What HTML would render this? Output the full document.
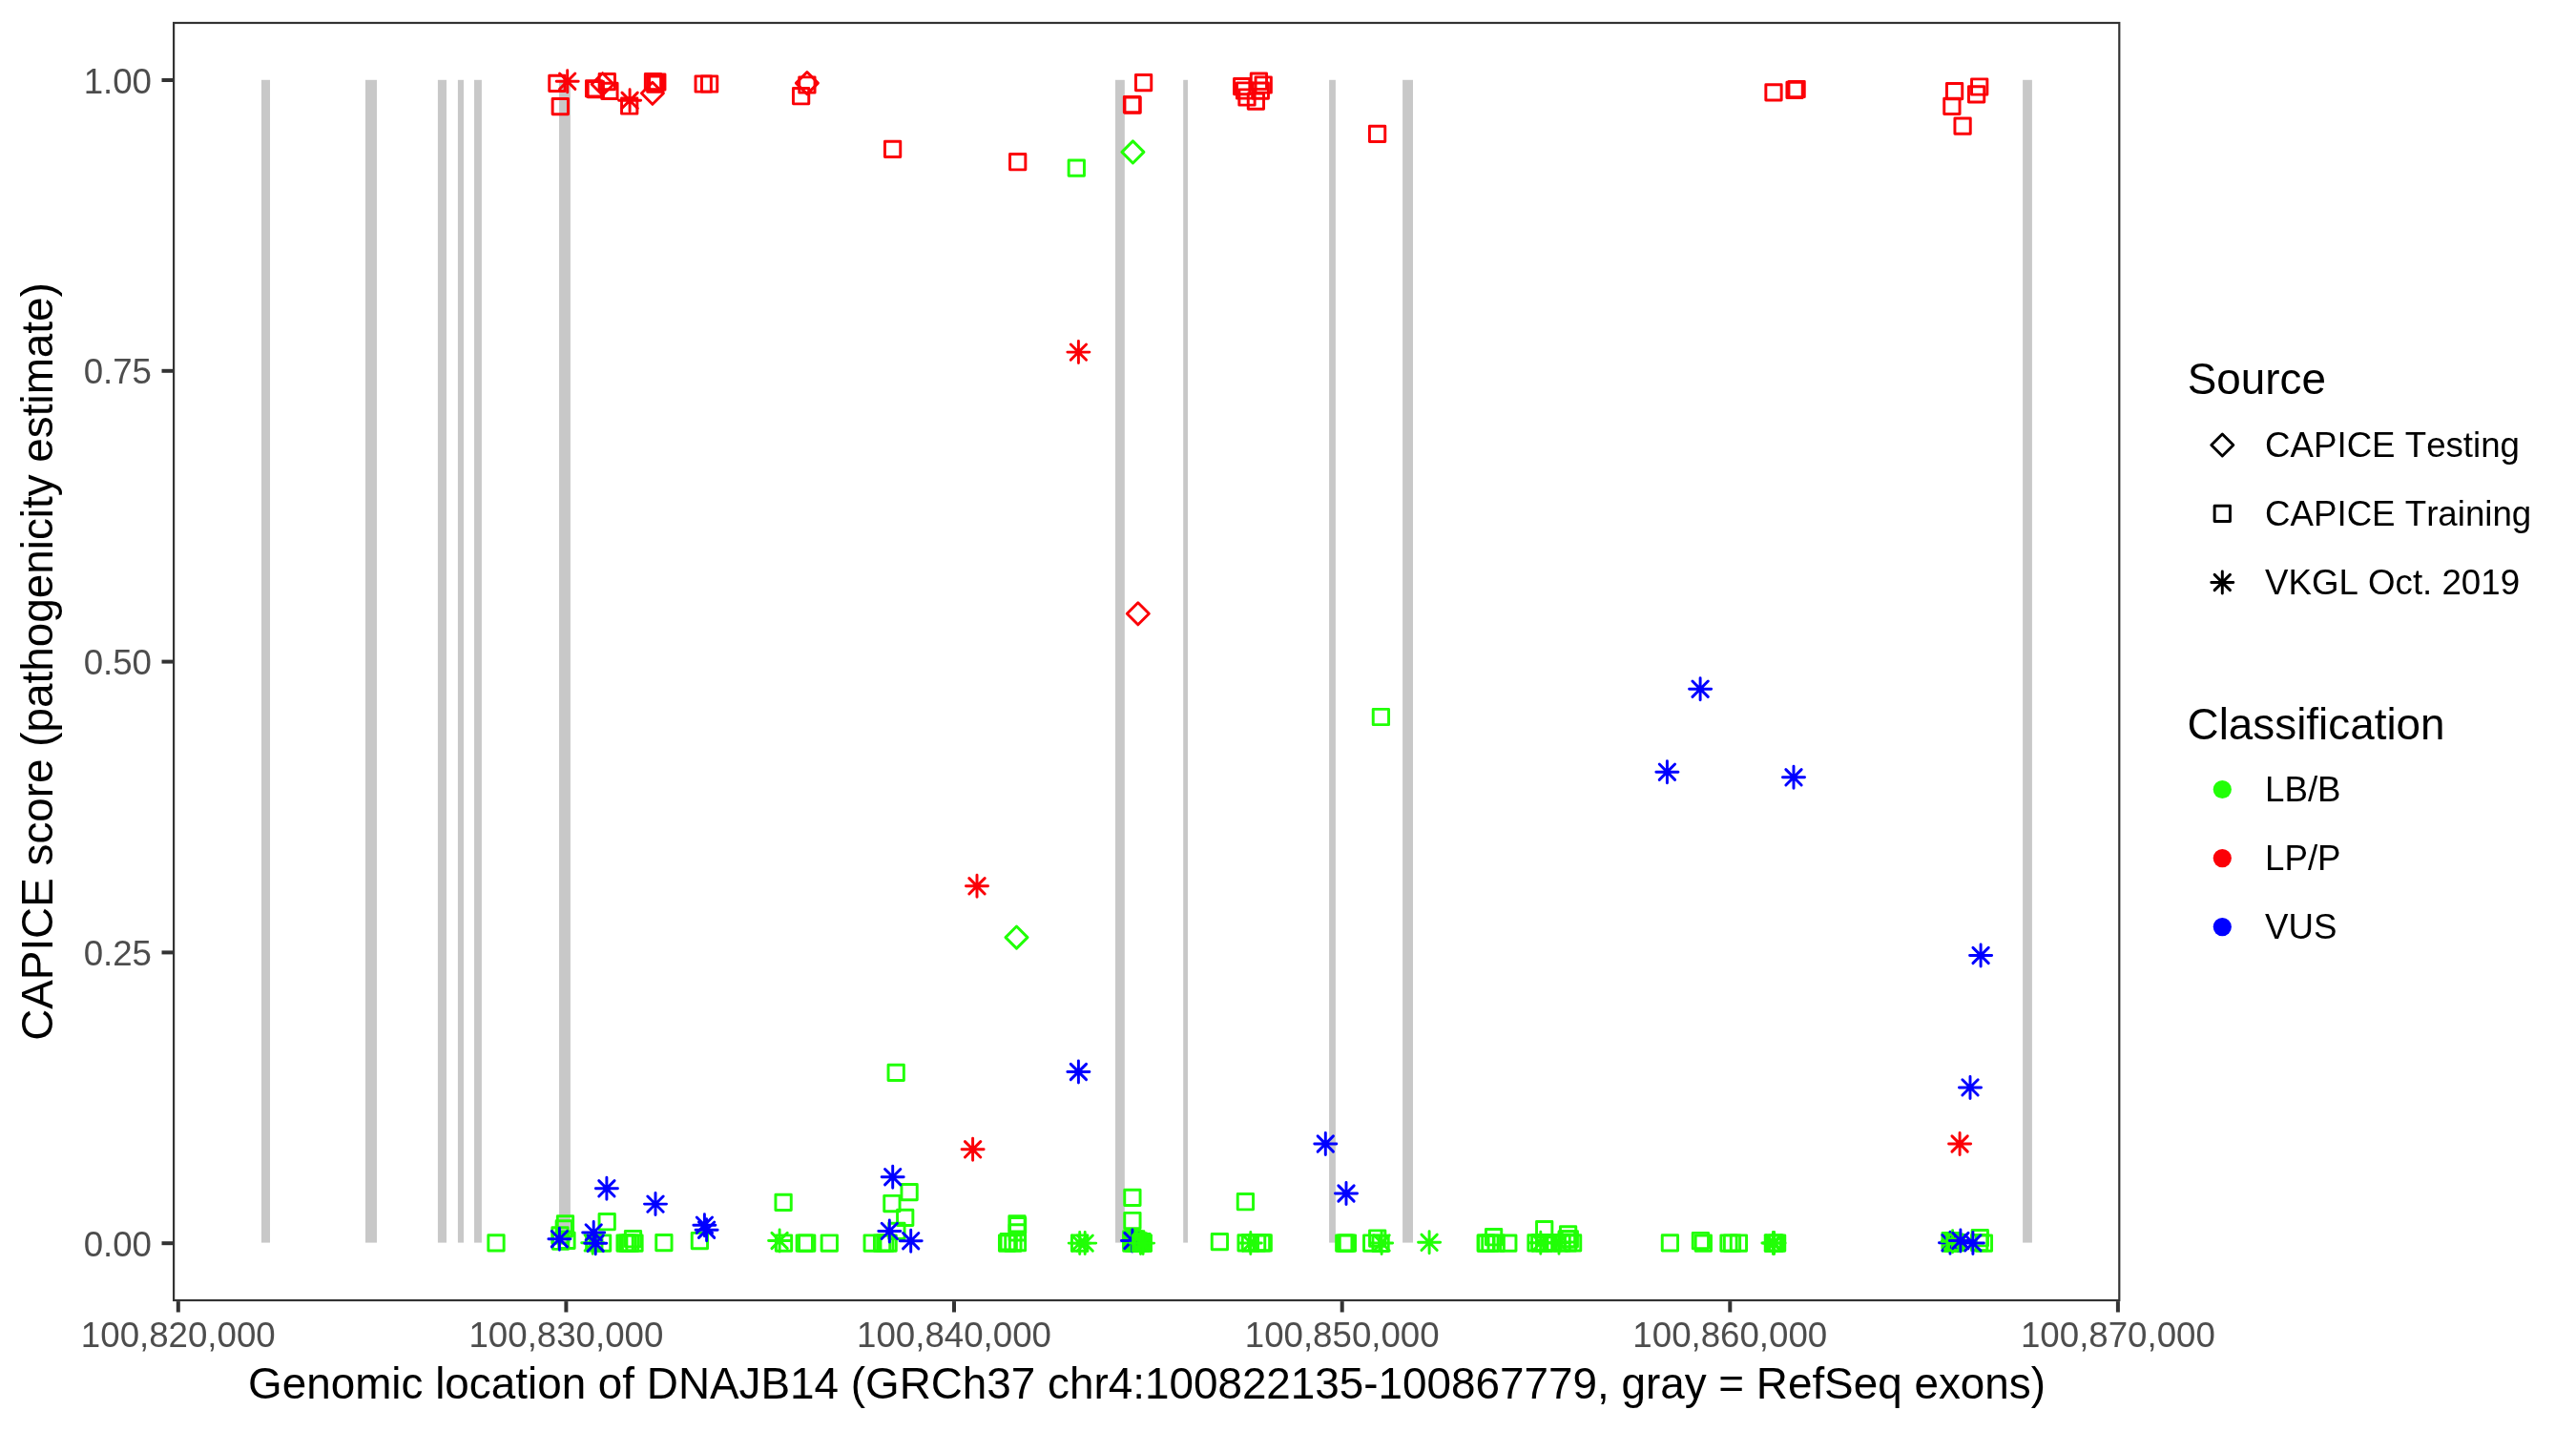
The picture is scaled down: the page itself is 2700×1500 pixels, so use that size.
<!DOCTYPE html>
<html><head><meta charset="utf-8"><title>CAPICE DNAJB14</title>
<style>html,body{margin:0;padding:0;background:#fff;}svg{display:block;will-change:transform;}text{font-family:"Liberation Sans",sans-serif;font-kerning:none;}</style></head><body>
<svg width="2700" height="1500" viewBox="0 0 2700 1500">
<rect x="0" y="0" width="2700" height="1500" fill="#FFFFFF"/>
<g fill="#C8C8C8">
<rect x="274.0" y="83.8" width="9.0" height="1218.8"/>
<rect x="383.0" y="83.8" width="12.0" height="1218.8"/>
<rect x="458.9" y="83.8" width="9.1" height="1218.8"/>
<rect x="479.9" y="83.8" width="6.1" height="1218.8"/>
<rect x="497.0" y="83.8" width="7.9" height="1218.8"/>
<rect x="586.0" y="83.8" width="11.9" height="1218.8"/>
<rect x="1169.0" y="83.8" width="9.8" height="1218.8"/>
<rect x="1240.2" y="83.8" width="4.8" height="1218.8"/>
<rect x="1393.1" y="83.8" width="6.8" height="1218.8"/>
<rect x="1470.1" y="83.8" width="10.9" height="1218.8"/>
<rect x="2120.1" y="83.8" width="9.8" height="1218.8"/>
</g>
<g fill="none" stroke-width="2.95" stroke-linejoin="round" stroke-linecap="round">
<rect x="511.85" y="1294.65" width="16.30" height="16.30" stroke="#21FF06"/>
<rect x="584.35" y="1274.65" width="16.30" height="16.30" stroke="#21FF06"/>
<rect x="583.15" y="1279.65" width="16.30" height="16.30" stroke="#21FF06"/>
<rect x="578.85" y="1286.65" width="16.30" height="16.30" stroke="#21FF06"/>
<rect x="579.45" y="1293.05" width="16.30" height="16.30" stroke="#21FF06"/>
<rect x="585.85" y="1292.15" width="16.30" height="16.30" stroke="#21FF06"/>
<path d="M578.25 1290.55L594.55 1306.85M578.25 1306.85L594.55 1290.55M574.88 1298.70L597.92 1298.70M586.40 1287.18L586.40 1310.22" stroke="#0000FF"/>
<path d="M627.75 1237.65L644.05 1253.95M627.75 1253.95L644.05 1237.65M624.38 1245.80L647.42 1245.80M635.90 1234.28L635.90 1257.32" stroke="#0000FF"/>
<rect x="628.05" y="1272.55" width="16.30" height="16.30" stroke="#21FF06"/>
<path d="M613.05 1294.65L629.35 1310.95M613.05 1310.95L629.35 1294.65M609.68 1302.80L632.72 1302.80M621.20 1291.28L621.20 1314.32" stroke="#21FF06"/>
<rect x="614.65" y="1294.65" width="16.30" height="16.30" stroke="#21FF06"/>
<rect x="623.45" y="1294.85" width="16.30" height="16.30" stroke="#21FF06"/>
<path d="M614.05 1283.75L630.35 1300.05M614.05 1300.05L630.35 1283.75M610.68 1291.90L633.72 1291.90M622.20 1280.38L622.20 1303.42" stroke="#0000FF"/>
<path d="M616.05 1295.05L632.35 1311.35M616.05 1311.35L632.35 1295.05M612.68 1303.20L635.72 1303.20M624.20 1291.68L624.20 1314.72" stroke="#0000FF"/>
<rect x="646.95" y="1294.85" width="16.30" height="16.30" stroke="#21FF06"/>
<rect x="649.55" y="1294.85" width="16.30" height="16.30" stroke="#21FF06"/>
<rect x="652.45" y="1294.85" width="16.30" height="16.30" stroke="#21FF06"/>
<rect x="656.85" y="1294.85" width="16.30" height="16.30" stroke="#21FF06"/>
<rect x="655.35" y="1290.55" width="16.30" height="16.30" stroke="#21FF06"/>
<rect x="687.75" y="1294.45" width="16.30" height="16.30" stroke="#21FF06"/>
<rect x="725.25" y="1292.35" width="16.30" height="16.30" stroke="#21FF06"/>
<path d="M678.85 1253.95L695.15 1270.25M678.85 1270.25L695.15 1253.95M675.48 1262.10L698.52 1262.10M687.00 1250.58L687.00 1273.62" stroke="#0000FF"/>
<path d="M730.25 1276.05L746.55 1292.35M730.25 1292.35L746.55 1276.05M726.88 1284.20L749.92 1284.20M738.40 1272.68L738.40 1295.72" stroke="#0000FF"/>
<path d="M732.45 1281.05L748.75 1297.35M732.45 1297.35L748.75 1281.05M729.08 1289.20L752.12 1289.20M740.60 1277.68L740.60 1300.72" stroke="#0000FF"/>
<rect x="931.05" y="1116.25" width="16.30" height="16.30" stroke="#21FF06"/>
<rect x="944.95" y="1241.45" width="16.30" height="16.30" stroke="#21FF06"/>
<rect x="812.95" y="1252.25" width="16.30" height="16.30" stroke="#21FF06"/>
<rect x="926.75" y="1253.35" width="16.30" height="16.30" stroke="#21FF06"/>
<rect x="940.55" y="1268.25" width="16.30" height="16.30" stroke="#21FF06"/>
<rect x="931.75" y="1282.25" width="16.30" height="16.30" stroke="#21FF06"/>
<path d="M808.95 1292.35L825.25 1308.65M808.95 1308.65L825.25 1292.35M805.58 1300.50L828.62 1300.50M817.10 1288.98L817.10 1312.02" stroke="#21FF06"/>
<rect x="813.35" y="1294.85" width="16.30" height="16.30" stroke="#21FF06"/>
<rect x="835.15" y="1294.85" width="16.30" height="16.30" stroke="#21FF06"/>
<rect x="837.55" y="1294.85" width="16.30" height="16.30" stroke="#21FF06"/>
<rect x="861.15" y="1294.85" width="16.30" height="16.30" stroke="#21FF06"/>
<rect x="906.05" y="1294.85" width="16.30" height="16.30" stroke="#21FF06"/>
<rect x="916.45" y="1294.85" width="16.30" height="16.30" stroke="#21FF06"/>
<rect x="919.65" y="1294.85" width="16.30" height="16.30" stroke="#21FF06"/>
<rect x="922.95" y="1294.85" width="16.30" height="16.30" stroke="#21FF06"/>
<path d="M927.55 1225.55L943.85 1241.85M927.55 1241.85L943.85 1225.55M924.18 1233.70L947.22 1233.70M935.70 1222.18L935.70 1245.22" stroke="#0000FF"/>
<path d="M924.15 1282.25L940.45 1298.55M924.15 1298.55L940.45 1282.25M920.78 1290.40L943.82 1290.40M932.30 1278.88L932.30 1301.92" stroke="#0000FF"/>
<path d="M946.55 1292.55L962.85 1308.85M946.55 1308.85L962.85 1292.55M943.18 1300.70L966.22 1300.70M954.70 1289.18L954.70 1312.22" stroke="#0000FF"/>
<rect x="1047.45" y="1294.85" width="16.30" height="16.30" stroke="#21FF06"/>
<rect x="1049.05" y="1293.55" width="16.30" height="16.30" stroke="#21FF06"/>
<rect x="1053.75" y="1294.85" width="16.30" height="16.30" stroke="#21FF06"/>
<rect x="1058.35" y="1294.35" width="16.30" height="16.30" stroke="#21FF06"/>
<rect x="1057.85" y="1274.65" width="16.30" height="16.30" stroke="#21FF06"/>
<rect x="1058.45" y="1276.45" width="16.30" height="16.30" stroke="#21FF06"/>
<rect x="1058.15" y="1283.65" width="16.30" height="16.30" stroke="#21FF06"/>
<path d="M1123.55 1294.95L1139.85 1311.25M1123.55 1311.25L1139.85 1294.95M1120.18 1303.10L1143.22 1303.10M1131.70 1291.58L1131.70 1314.62" stroke="#21FF06"/>
<path d="M1129.05 1294.95L1145.35 1311.25M1129.05 1311.25L1145.35 1294.95M1125.68 1303.10L1148.72 1303.10M1137.20 1291.58L1137.20 1314.62" stroke="#21FF06"/>
<rect x="1123.45" y="1294.85" width="16.30" height="16.30" stroke="#21FF06"/>
<rect x="1178.75" y="1247.25" width="16.30" height="16.30" stroke="#21FF06"/>
<rect x="1178.75" y="1271.35" width="16.30" height="16.30" stroke="#21FF06"/>
<rect x="1177.65" y="1290.65" width="16.30" height="16.30" stroke="#21FF06"/>
<rect x="1177.65" y="1295.05" width="16.30" height="16.30" stroke="#21FF06"/>
<rect x="1180.15" y="1292.85" width="16.30" height="16.30" stroke="#21FF06"/>
<rect x="1182.65" y="1290.65" width="16.30" height="16.30" stroke="#21FF06"/>
<rect x="1182.65" y="1295.05" width="16.30" height="16.30" stroke="#21FF06"/>
<rect x="1180.15" y="1295.05" width="16.30" height="16.30" stroke="#21FF06"/>
<rect x="1180.15" y="1290.65" width="16.30" height="16.30" stroke="#21FF06"/>
<rect x="1185.15" y="1294.95" width="16.30" height="16.30" stroke="#21FF06"/>
<rect x="1185.15" y="1292.65" width="16.30" height="16.30" stroke="#21FF06"/>
<path d="M1178.75 1292.35L1195.05 1308.65M1178.75 1308.65L1195.05 1292.35M1175.38 1300.50L1198.42 1300.50M1186.90 1288.98L1186.90 1312.02" stroke="#0000FF"/>
<rect x="1187.65" y="1294.95" width="16.30" height="16.30" stroke="#21FF06"/>
<rect x="1190.15" y="1294.95" width="16.30" height="16.30" stroke="#21FF06"/>
<rect x="1188.85" y="1293.35" width="16.30" height="16.30" stroke="#21FF06"/>
<path d="M1187.35 1294.95L1203.65 1311.25M1187.35 1311.25L1203.65 1294.95M1183.98 1303.10L1207.02 1303.10M1195.50 1291.58L1195.50 1314.62" stroke="#21FF06"/>
<path d="M1189.95 1294.95L1206.25 1311.25M1189.95 1311.25L1206.25 1294.95M1186.58 1303.10L1209.62 1303.10M1198.10 1291.58L1198.10 1314.62" stroke="#21FF06"/>
<rect x="1270.25" y="1293.45" width="16.30" height="16.30" stroke="#21FF06"/>
<rect x="1297.25" y="1251.55" width="16.30" height="16.30" stroke="#21FF06"/>
<path d="M1302.65 1294.75L1318.95 1311.05M1302.65 1311.05L1318.95 1294.75M1299.28 1302.90L1322.32 1302.90M1310.80 1291.38L1310.80 1314.42" stroke="#21FF06"/>
<rect x="1297.95" y="1294.75" width="16.30" height="16.30" stroke="#21FF06"/>
<rect x="1302.25" y="1294.75" width="16.30" height="16.30" stroke="#21FF06"/>
<rect x="1309.45" y="1294.75" width="16.30" height="16.30" stroke="#21FF06"/>
<rect x="1314.35" y="1294.75" width="16.30" height="16.30" stroke="#21FF06"/>
<rect x="1316.05" y="1294.75" width="16.30" height="16.30" stroke="#21FF06"/>
<path d="M1381.15 1190.85L1397.45 1207.15M1381.15 1207.15L1397.45 1190.85M1377.78 1199.00L1400.82 1199.00M1389.30 1187.48L1389.30 1210.52" stroke="#0000FF"/>
<path d="M1402.85 1242.85L1419.15 1259.15M1402.85 1259.15L1419.15 1242.85M1399.48 1251.00L1422.52 1251.00M1411.00 1239.48L1411.00 1262.52" stroke="#0000FF"/>
<rect x="1400.65" y="1294.85" width="16.30" height="16.30" stroke="#21FF06"/>
<rect x="1402.45" y="1294.85" width="16.30" height="16.30" stroke="#21FF06"/>
<rect x="1404.25" y="1294.85" width="16.30" height="16.30" stroke="#21FF06"/>
<rect x="1429.55" y="1294.85" width="16.30" height="16.30" stroke="#21FF06"/>
<rect x="1435.55" y="1289.85" width="16.30" height="16.30" stroke="#21FF06"/>
<rect x="1438.95" y="1295.15" width="16.30" height="16.30" stroke="#21FF06"/>
<path d="M1439.95 1294.75L1456.25 1311.05M1439.95 1311.05L1456.25 1294.75M1436.58 1302.90L1459.62 1302.90M1448.10 1291.38L1448.10 1314.42" stroke="#21FF06"/>
<path d="M1489.95 1294.15L1506.25 1310.45M1489.95 1310.45L1506.25 1294.15M1486.58 1302.30L1509.62 1302.30M1498.10 1290.78L1498.10 1313.82" stroke="#21FF06"/>
<rect x="1549.05" y="1294.90" width="16.30" height="16.30" stroke="#21FF06"/>
<rect x="1549.75" y="1294.90" width="16.30" height="16.30" stroke="#21FF06"/>
<rect x="1553.75" y="1294.90" width="16.30" height="16.30" stroke="#21FF06"/>
<rect x="1560.05" y="1294.90" width="16.30" height="16.30" stroke="#21FF06"/>
<rect x="1572.65" y="1294.90" width="16.30" height="16.30" stroke="#21FF06"/>
<rect x="1557.45" y="1288.55" width="16.30" height="16.30" stroke="#21FF06"/>
<rect x="1601.85" y="1294.75" width="16.30" height="16.30" stroke="#21FF06"/>
<rect x="1605.65" y="1294.75" width="16.30" height="16.30" stroke="#21FF06"/>
<rect x="1610.35" y="1294.75" width="16.30" height="16.30" stroke="#21FF06"/>
<rect x="1615.05" y="1294.75" width="16.30" height="16.30" stroke="#21FF06"/>
<rect x="1619.65" y="1294.75" width="16.30" height="16.30" stroke="#21FF06"/>
<rect x="1628.95" y="1294.75" width="16.30" height="16.30" stroke="#21FF06"/>
<rect x="1635.35" y="1294.75" width="16.30" height="16.30" stroke="#21FF06"/>
<rect x="1640.45" y="1294.75" width="16.30" height="16.30" stroke="#21FF06"/>
<path d="M1606.65 1294.65L1622.95 1310.95M1606.65 1310.95L1622.95 1294.65M1603.28 1302.80L1626.32 1302.80M1614.80 1291.28L1614.80 1314.32" stroke="#21FF06"/>
<path d="M1625.85 1294.65L1642.15 1310.95M1625.85 1310.95L1642.15 1294.65M1622.48 1302.80L1645.52 1302.80M1634.00 1291.28L1634.00 1314.32" stroke="#21FF06"/>
<rect x="1610.55" y="1280.55" width="16.30" height="16.30" stroke="#21FF06"/>
<rect x="1635.45" y="1285.75" width="16.30" height="16.30" stroke="#21FF06"/>
<rect x="1634.35" y="1290.65" width="16.30" height="16.30" stroke="#21FF06"/>
<rect x="1637.15" y="1290.65" width="16.30" height="16.30" stroke="#21FF06"/>
<rect x="1742.25" y="1294.65" width="16.30" height="16.30" stroke="#21FF06"/>
<rect x="1774.25" y="1292.35" width="16.30" height="16.30" stroke="#21FF06"/>
<rect x="1777.15" y="1295.05" width="16.30" height="16.30" stroke="#21FF06"/>
<rect x="1803.85" y="1294.85" width="16.30" height="16.30" stroke="#21FF06"/>
<rect x="1807.35" y="1294.85" width="16.30" height="16.30" stroke="#21FF06"/>
<rect x="1814.25" y="1294.85" width="16.30" height="16.30" stroke="#21FF06"/>
<path d="M1850.25 1294.85L1866.55 1311.15M1850.25 1311.15L1866.55 1294.85M1846.88 1303.00L1869.92 1303.00M1858.40 1291.48L1858.40 1314.52" stroke="#21FF06"/>
<path d="M1851.45 1294.85L1867.75 1311.15M1851.45 1311.15L1867.75 1294.85M1848.08 1303.00L1871.12 1303.00M1859.60 1291.48L1859.60 1314.52" stroke="#21FF06"/>
<rect x="1850.25" y="1294.85" width="16.30" height="16.30" stroke="#21FF06"/>
<rect x="1852.35" y="1294.85" width="16.30" height="16.30" stroke="#21FF06"/>
<rect x="1854.45" y="1294.85" width="16.30" height="16.30" stroke="#21FF06"/>
<rect x="2035.95" y="1292.45" width="16.30" height="16.30" stroke="#21FF06"/>
<rect x="2036.45" y="1295.05" width="16.30" height="16.30" stroke="#21FF06"/>
<rect x="2038.35" y="1292.45" width="16.30" height="16.30" stroke="#21FF06"/>
<rect x="2038.35" y="1295.05" width="16.30" height="16.30" stroke="#21FF06"/>
<path d="M2035.85 1294.55L2052.15 1310.85M2035.85 1310.85L2052.15 1294.55M2032.48 1302.70L2055.52 1302.70M2044.00 1291.18L2044.00 1314.22" stroke="#0000FF"/>
<rect x="2040.85" y="1293.85" width="16.30" height="16.30" stroke="#21FF06"/>
<rect x="2042.35" y="1294.35" width="16.30" height="16.30" stroke="#21FF06"/>
<path d="M2038.45 1293.05L2054.75 1309.35M2038.45 1309.35L2054.75 1293.05M2035.08 1301.20L2058.12 1301.20M2046.60 1289.68L2046.60 1312.72" stroke="#21FF06"/>
<rect x="2067.15" y="1289.55" width="16.30" height="16.30" stroke="#21FF06"/>
<rect x="2066.55" y="1294.35" width="16.30" height="16.30" stroke="#21FF06"/>
<rect x="2071.25" y="1294.95" width="16.30" height="16.30" stroke="#21FF06"/>
<path d="M2046.75 1292.35L2063.05 1308.65M2046.75 1308.65L2063.05 1292.35M2043.38 1300.50L2066.42 1300.50M2054.90 1288.98L2054.90 1312.02" stroke="#0000FF"/>
<path d="M2059.75 1294.75L2076.05 1311.05M2059.75 1311.05L2076.05 1294.75M2056.38 1302.90L2079.42 1302.90M2067.90 1291.38L2067.90 1314.42" stroke="#0000FF"/>
<path d="M1122.25 360.95L1138.55 377.25M1122.25 377.25L1138.55 360.95M1118.88 369.10L1141.92 369.10M1130.40 357.58L1130.40 380.62" stroke="#FB0007"/>
<path d="M1192.80 631.78L1204.32 643.30L1192.80 654.82L1181.28 643.30Z" stroke="#FB0007"/>
<path d="M1015.85 920.65L1032.15 936.95M1015.85 936.95L1032.15 920.65M1012.48 928.80L1035.52 928.80M1024.00 917.28L1024.00 940.32" stroke="#FB0007"/>
<path d="M1065.50 971.08L1077.02 982.60L1065.50 994.12L1053.98 982.60Z" stroke="#21FF06"/>
<path d="M1122.25 1115.35L1138.55 1131.65M1122.25 1131.65L1138.55 1115.35M1118.88 1123.50L1141.92 1123.50M1130.40 1111.98L1130.40 1135.02" stroke="#0000FF"/>
<path d="M1011.45 1196.65L1027.75 1212.95M1011.45 1212.95L1027.75 1196.65M1008.08 1204.80L1031.12 1204.80M1019.60 1193.28L1019.60 1216.32" stroke="#FB0007"/>
<rect x="1439.25" y="743.35" width="16.30" height="16.30" stroke="#21FF06"/>
<path d="M1773.95 714.05L1790.25 730.35M1773.95 730.35L1790.25 714.05M1770.58 722.20L1793.62 722.20M1782.10 710.68L1782.10 733.72" stroke="#0000FF"/>
<path d="M1739.25 801.05L1755.55 817.35M1739.25 817.35L1755.55 801.05M1735.88 809.20L1758.92 809.20M1747.40 797.68L1747.40 820.72" stroke="#0000FF"/>
<path d="M1871.85 806.65L1888.15 822.95M1871.85 822.95L1888.15 806.65M1868.48 814.80L1891.52 814.80M1880.00 803.28L1880.00 826.32" stroke="#0000FF"/>
<path d="M2067.95 993.35L2084.25 1009.65M2067.95 1009.65L2084.25 993.35M2064.58 1001.50L2087.62 1001.50M2076.10 989.98L2076.10 1013.02" stroke="#0000FF"/>
<path d="M2056.85 1131.75L2073.15 1148.05M2056.85 1148.05L2073.15 1131.75M2053.48 1139.90L2076.52 1139.90M2065.00 1128.38L2065.00 1151.42" stroke="#0000FF"/>
<path d="M2045.95 1190.85L2062.25 1207.15M2045.95 1207.15L2062.25 1190.85M2042.58 1199.00L2065.62 1199.00M2054.10 1187.48L2054.10 1210.52" stroke="#FB0007"/>
<rect x="1120.15" y="167.95" width="16.30" height="16.30" stroke="#21FF06"/>
<path d="M1187.40 147.88L1198.92 159.40L1187.40 170.92L1175.88 159.40Z" stroke="#21FF06"/>
<rect x="575.75" y="79.25" width="16.30" height="16.30" stroke="#FB0007"/>
<path d="M586.55 77.05L602.85 93.35M586.55 93.35L602.85 77.05M583.18 85.20L606.22 85.20M594.70 73.68L594.70 96.72" stroke="#FB0007"/>
<rect x="579.15" y="103.45" width="16.30" height="16.30" stroke="#FB0007"/>
<rect x="614.45" y="84.65" width="16.30" height="16.30" stroke="#FB0007"/>
<rect x="616.15" y="85.55" width="16.30" height="16.30" stroke="#FB0007"/>
<rect x="628.15" y="77.45" width="16.30" height="16.30" stroke="#FB0007"/>
<path d="M631.60 76.68L643.12 88.20L631.60 99.72L620.08 88.20Z" stroke="#FB0007"/>
<rect x="630.75" y="87.25" width="16.30" height="16.30" stroke="#FB0007"/>
<path d="M651.95 97.15L668.25 113.45M651.95 113.45L668.25 97.15M648.58 105.30L671.62 105.30M660.10 93.78L660.10 116.82" stroke="#FB0007"/>
<rect x="651.55" y="102.85" width="16.30" height="16.30" stroke="#FB0007"/>
<rect x="676.35" y="77.45" width="16.30" height="16.30" stroke="#FB0007"/>
<rect x="680.65" y="77.85" width="16.30" height="16.30" stroke="#FB0007"/>
<rect x="678.65" y="79.95" width="16.30" height="16.30" stroke="#FB0007"/>
<path d="M683.90 86.28L695.42 97.80L683.90 109.32L672.38 97.80Z" stroke="#FB0007"/>
<rect x="729.05" y="79.85" width="16.30" height="16.30" stroke="#FB0007"/>
<rect x="735.45" y="79.85" width="16.30" height="16.30" stroke="#FB0007"/>
<path d="M845.90 75.58L857.42 87.10L845.90 98.62L834.38 87.10Z" stroke="#FB0007"/>
<rect x="837.75" y="80.85" width="16.30" height="16.30" stroke="#FB0007"/>
<rect x="831.45" y="92.55" width="16.30" height="16.30" stroke="#FB0007"/>
<rect x="927.45" y="148.15" width="16.30" height="16.30" stroke="#FB0007"/>
<rect x="1058.55" y="161.55" width="16.30" height="16.30" stroke="#FB0007"/>
<rect x="1190.45" y="78.45" width="16.30" height="16.30" stroke="#FB0007"/>
<rect x="1178.35" y="101.45" width="16.30" height="16.30" stroke="#FB0007"/>
<rect x="1178.95" y="102.05" width="16.30" height="16.30" stroke="#FB0007"/>
<rect x="1293.55" y="82.45" width="16.30" height="16.30" stroke="#FB0007"/>
<rect x="1296.45" y="86.85" width="16.30" height="16.30" stroke="#FB0007"/>
<rect x="1298.85" y="93.85" width="16.30" height="16.30" stroke="#FB0007"/>
<rect x="1308.25" y="97.95" width="16.30" height="16.30" stroke="#FB0007"/>
<rect x="1311.25" y="77.05" width="16.30" height="16.30" stroke="#FB0007"/>
<rect x="1316.05" y="80.85" width="16.30" height="16.30" stroke="#FB0007"/>
<rect x="1313.15" y="86.95" width="16.30" height="16.30" stroke="#FB0007"/>
<rect x="1435.45" y="132.25" width="16.30" height="16.30" stroke="#FB0007"/>
<rect x="1850.85" y="88.65" width="16.30" height="16.30" stroke="#FB0007"/>
<rect x="1872.95" y="86.15" width="16.30" height="16.30" stroke="#FB0007"/>
<rect x="1874.95" y="85.35" width="16.30" height="16.30" stroke="#FB0007"/>
<rect x="2040.45" y="87.55" width="16.30" height="16.30" stroke="#FB0007"/>
<rect x="2037.75" y="103.25" width="16.30" height="16.30" stroke="#FB0007"/>
<rect x="2066.55" y="82.85" width="16.30" height="16.30" stroke="#FB0007"/>
<rect x="2063.45" y="90.75" width="16.30" height="16.30" stroke="#FB0007"/>
<rect x="2048.95" y="123.95" width="16.30" height="16.30" stroke="#FB0007"/>
</g>
<rect x="182.1" y="24.0" width="2039.2" height="1339.0" fill="none" stroke="#333333" stroke-width="2.2"/>
<g stroke="#333333" stroke-width="4.0">
<line x1="169.5" y1="1303.2" x2="181.0" y2="1303.2"/>
<line x1="169.5" y1="998.4" x2="181.0" y2="998.4"/>
<line x1="169.5" y1="693.6" x2="181.0" y2="693.6"/>
<line x1="169.5" y1="388.8" x2="181.0" y2="388.8"/>
<line x1="169.5" y1="84.0" x2="181.0" y2="84.0"/>
<line x1="186.8" y1="1364.1" x2="186.8" y2="1375.5"/>
<line x1="593.4" y1="1364.1" x2="593.4" y2="1375.5"/>
<line x1="1000.0" y1="1364.1" x2="1000.0" y2="1375.5"/>
<line x1="1406.7" y1="1364.1" x2="1406.7" y2="1375.5"/>
<line x1="1813.3" y1="1364.1" x2="1813.3" y2="1375.5"/>
<line x1="2219.9" y1="1364.1" x2="2219.9" y2="1375.5"/>
</g>
<g fill="#4D4D4D" font-size="36.67">
<text x="159.0" y="1316.8" text-anchor="end">0.00</text>
<text x="159.0" y="1012.0" text-anchor="end">0.25</text>
<text x="159.0" y="707.2" text-anchor="end">0.50</text>
<text x="159.0" y="402.4" text-anchor="end">0.75</text>
<text x="159.0" y="97.6" text-anchor="end">1.00</text>
<text x="186.8" y="1412.0" text-anchor="middle">100,820,000</text>
<text x="593.4" y="1412.0" text-anchor="middle">100,830,000</text>
<text x="1000.0" y="1412.0" text-anchor="middle">100,840,000</text>
<text x="1406.7" y="1412.0" text-anchor="middle">100,850,000</text>
<text x="1813.3" y="1412.0" text-anchor="middle">100,860,000</text>
<text x="2219.9" y="1412.0" text-anchor="middle">100,870,000</text>
</g>
<g fill="#000000" font-size="45.83">
<text x="1202.0" y="1466.3" text-anchor="middle">Genomic location of DNAJB14 (GRCh37 chr4:100822135-100867779, gray = RefSeq exons)</text>
<text transform="translate(55.2,693.5) rotate(-90)" text-anchor="middle">CAPICE score (pathogenicity estimate)</text>
<text x="2292.8" y="413.3">Source</text>
<text x="2292.6" y="774.6">Classification</text>
</g>
<g fill="#000000" font-size="36.67">
<text x="2374.1" y="479.4">CAPICE Testing</text>
<text x="2374.1" y="551.3">CAPICE Training</text>
<text x="2374.1" y="623.4">VKGL Oct. 2019</text>
<text x="2374.1" y="839.9">LB/B</text>
<text x="2374.1" y="911.8">LP/P</text>
<text x="2374.1" y="983.7">VUS</text>
</g>
<g fill="none" stroke-width="2.95" stroke-linejoin="round" stroke-linecap="round">
<path d="M2329.30 454.98L2340.82 466.50L2329.30 478.02L2317.78 466.50Z" stroke="#000000"/>
<rect x="2321.15" y="530.25" width="16.30" height="16.30" stroke="#000000"/>
<path d="M2321.15 602.35L2337.45 618.65M2321.15 618.65L2337.45 602.35M2317.78 610.50L2340.82 610.50M2329.30 598.98L2329.30 622.02" stroke="#000000"/>
</g>
<circle cx="2329.3" cy="827.5" r="9.6" fill="#21FF06"/>
<circle cx="2329.3" cy="899.6" r="9.6" fill="#FB0007"/>
<circle cx="2329.3" cy="971.6" r="9.6" fill="#0000FF"/>
</svg></body></html>
